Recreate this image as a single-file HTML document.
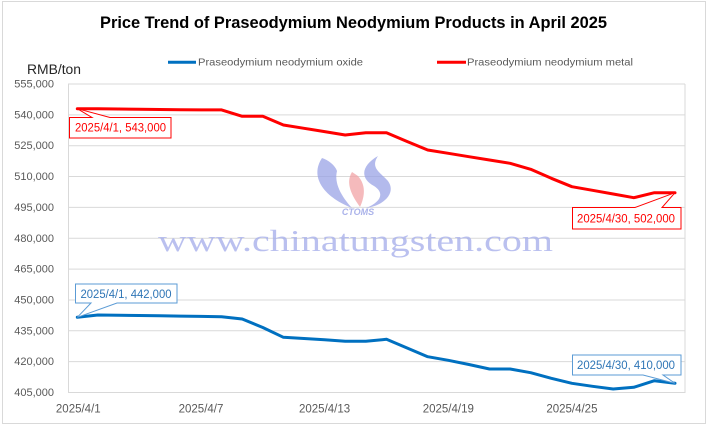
<!DOCTYPE html>
<html><head><meta charset="utf-8"><style>
html,body{margin:0;padding:0;background:#fff;}
svg{display:block;}
</style></head><body>
<svg width="710" height="426" viewBox="0 0 710 426" xmlns="http://www.w3.org/2000/svg" font-family="'Liberation Sans', sans-serif">
<rect x="0" y="0" width="710" height="426" fill="#fff"/>
<rect x="2.5" y="1.5" width="703" height="422" fill="none" stroke="#d9d9d9" stroke-width="1"/>
<text x="100" y="28" font-size="17" font-weight="bold" fill="#000" textLength="507" lengthAdjust="spacingAndGlyphs">Price Trend of Praseodymium Neodymium Products in April 2025</text>
<line x1="168" y1="62.3" x2="196" y2="62.3" stroke="#0070C0" stroke-width="3"/>
<text x="198" y="65.7" font-size="10.5" fill="#595959" textLength="165" lengthAdjust="spacingAndGlyphs">Praseodymium neodymium oxide</text>
<line x1="437" y1="62.3" x2="466" y2="62.3" stroke="#FF0000" stroke-width="3"/>
<text x="467" y="65.7" font-size="10.5" fill="#595959" textLength="166" lengthAdjust="spacingAndGlyphs">Praseodymium neodymium metal</text>
<text x="27" y="74" font-size="13.5" fill="#262626" textLength="54" lengthAdjust="spacingAndGlyphs">RMB/ton</text>
<g stroke="#d9d9d9" stroke-width="1">
<line x1="68" y1="84" x2="685" y2="84"/>
<line x1="68" y1="114.85" x2="685" y2="114.85"/>
<line x1="68" y1="145.7" x2="685" y2="145.7"/>
<line x1="68" y1="176.55" x2="685" y2="176.55"/>
<line x1="68" y1="207.4" x2="685" y2="207.4"/>
<line x1="68" y1="238.25" x2="685" y2="238.25"/>
<line x1="68" y1="269.1" x2="685" y2="269.1"/>
<line x1="68" y1="299.95" x2="685" y2="299.95"/>
<line x1="68" y1="330.8" x2="685" y2="330.8"/>
<line x1="68" y1="361.65" x2="685" y2="361.65"/>
<line x1="68" y1="392.5" x2="685" y2="392.5"/>
<line x1="68.5" y1="84" x2="68.5" y2="393"/>
<line x1="685" y1="84" x2="685" y2="393"/>
</g>
<g font-size="11" fill="#595959" text-anchor="end">
<text x="54" y="87.5">555,000</text>
<text x="54" y="118.4">540,000</text>
<text x="54" y="149.2">525,000</text>
<text x="54" y="180">510,000</text>
<text x="54" y="210.9">495,000</text>
<text x="54" y="241.8">480,000</text>
<text x="54" y="272.6">465,000</text>
<text x="54" y="303.5">450,000</text>
<text x="54" y="334.3">435,000</text>
<text x="54" y="365.2">420,000</text>
<text x="54" y="396">405,000</text>
</g>
<g font-size="11.5" fill="#595959" text-anchor="middle">
<text x="78.3" y="412.5">2025/4/1</text>
<text x="201" y="412.5">2025/4/7</text>
<text x="324.6" y="412.5">2025/4/13</text>
<text x="448.3" y="412.5">2025/4/19</text>
<text x="571.9" y="412.5">2025/4/25</text>
</g>
<!-- watermark -->
<g opacity="0.75">
<path d="M322,158 C310,176 322,196 352,208 C341,196 334,183 337,171 C335,165 328,160 322,158 Z" fill="#9aa3e6"/>
<path d="M378,156 C362,165 359,178 374,186 C385,193 381,202 366,208 C386,205 396,192 388,181 C380,172 370,168 378,156 Z" fill="#9aa3e6"/>
<path d="M352,172 C345,183 352,196 360,207 C365,196 366,185 358,176 Z" fill="#f2a3a6"/>
<text x="358" y="215" font-size="9" font-style="italic" font-weight="bold" fill="#8f9ae3" text-anchor="middle">CTOMS</text>
<text x="158" y="251" font-size="31" font-family="'Liberation Serif', serif" fill="#a3acea" textLength="395" lengthAdjust="spacingAndGlyphs">www.chinatungsten.com</text>
</g>
<!-- series -->
<polyline fill="none" stroke="#FF0000" stroke-width="3" stroke-linejoin="round" stroke-linecap="round" points="77.3,108.7 97.9,108.7 118.5,109 139.1,109.2 159.7,109.5 180.4,109.7 201,109.9 221.6,109.9 242.2,116.3 262.8,116.3 283.4,125 304,128.3 324.6,131.6 345.2,135 365.8,132.7 386.5,132.7 407.1,141.5 427.7,150 448.3,153.3 468.9,156.7 489.5,160 510.1,163.3 530.7,169.3 551.3,178.3 571.9,186.7 592.5,190.3 613.2,194 633.8,197.7 654.4,192.7 675,192.7"/>
<polyline fill="none" stroke="#0070C0" stroke-width="3" stroke-linejoin="round" stroke-linecap="round" points="77.3,317.3 97.9,315 118.5,315.2 139.1,315.5 159.7,315.8 180.4,316.1 201,316.4 221.6,316.7 242.2,319 262.8,327.5 283.4,337.3 304,338.5 324.6,339.7 345.2,341.3 365.8,341.3 386.5,339.3 407.1,348 427.7,356.7 448.3,360.3 468.9,364.5 489.5,369 510.1,369 530.7,372.7 551.3,378.3 571.9,383.3 592.5,386.3 613.2,389 633.8,387.3 654.4,380.7 675,383.3"/>
<!-- callouts -->
<path d="M69.5,117.5 L92,117.5 L77.3,108.7 L110,117.5 L171,117.5 L171,138 L69.5,138 Z" fill="#fff" stroke="#FF0000" stroke-width="1"/>
<text x="120.5" y="131.5" font-size="11.5" fill="#FF0000" text-anchor="middle" textLength="91" lengthAdjust="spacingAndGlyphs">2025/4/1, 543,000</text>
<path d="M572.5,207.5 L635,207.5 L675,192.7 L662,207.5 L681,207.5 L681,229 L572.5,229 Z" fill="#fff" stroke="#FF0000" stroke-width="1"/>
<text x="626" y="222.5" font-size="11.5" fill="#FF0000" text-anchor="middle" textLength="98" lengthAdjust="spacingAndGlyphs">2025/4/30, 502,000</text>
<path d="M75.5,284 L177,284 L177,303 L117,303 L77.3,317.3 L91,303 L75.5,303 Z" fill="#fff" stroke="#5B9BD5" stroke-width="1"/>
<text x="126" y="298" font-size="11.5" fill="#2E75B6" text-anchor="middle" textLength="91" lengthAdjust="spacingAndGlyphs">2025/4/1, 442,000</text>
<path d="M572.5,355 L681,355 L681,375 L663,375 L675,383.3 L643,375 L572.5,375 Z" fill="#fff" stroke="#5B9BD5" stroke-width="1"/>
<text x="626" y="369" font-size="11.5" fill="#2E75B6" text-anchor="middle" textLength="98" lengthAdjust="spacingAndGlyphs">2025/4/30, 410,000</text>
</svg>
</body></html>
